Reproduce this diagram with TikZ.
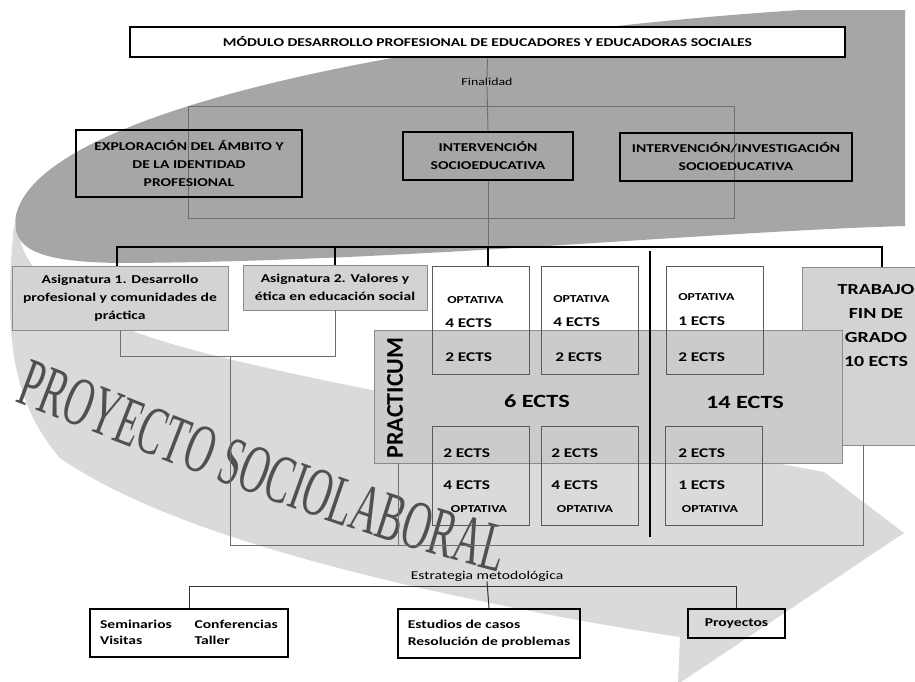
\documentclass[tikz,border=0pt]{standalone}
\usepackage{fontspec}
\setmainfont{Carlito}[FakeStretch=1.3]
\newfontfamily\plainfont{Carlito}
\newfontfamily\proyfont[FakeStretch=0.56]{Liberation Serif}
\usetikzlibrary{decorations.text}
\definecolor{darkbg}{HTML}{A6A6A6}
\definecolor{lightbg}{HTML}{DADADA}
\definecolor{boxgray}{HTML}{D3D3D3}
\definecolor{practgray}{HTML}{CBCBCB}
\definecolor{framegray}{HTML}{6E6E6E}
\definecolor{edgegray}{HTML}{595959}
\definecolor{wordart}{HTML}{505050}
\tikzset{
  tbox/.style={draw=black, line width=1.6pt, inner sep=0pt, align=center, font=\fontsize{9}{13.5}\selectfont\bfseries},
  asbox/.style={draw=edgegray!70, line width=0.7pt, fill=boxgray, inner sep=0pt, align=center, font=\fontsize{9}{13.5}\selectfont\bfseries},
  thinframe/.style={draw=framegray, line width=0.7pt, inner sep=0pt},
  ectsbox/.style={draw=edgegray, line width=0.7pt, inner sep=0pt, minimum width=72.75pt},
  thinline/.style={draw=framegray, line width=0.7pt},
  conline/.style={draw=black!80, line width=0.75pt},
  barline/.style={draw=black, line width=2.2pt},
  optt/.style={inner sep=0pt, anchor=west, font=\fontsize{8}{9}\selectfont\bfseries},
  ectst/.style={inner sep=0pt, anchor=west, font=\fontsize{10}{11}\selectfont\bfseries},
  bigt/.style={inner sep=0pt, font=\fontsize{14}{16}\selectfont\bfseries},
  smallt/.style={inner sep=0pt, font=\fontsize{8.5}{10}\selectfont},
  botbox/.style={draw=black, line width=1.6pt, inner sep=0pt, align=left, font=\fontsize{9}{12.5}\selectfont\bfseries}
}
\begin{document}
\begin{tikzpicture}[x=0.75pt,y=-0.75pt]
\useasboundingbox (0,0) rectangle (915,682);
\fill[white] (0,0) rectangle (915,682);
% background curved arrow
\fill[lightbg] (14,225) .. controls (4,330) and (10,400) .. (60,458)
  .. controls (150,520) and (300,560) .. (420,588)
  .. controls (520,610) and (600,625) .. (680,637)
  -- (678,684) -- (904,533) -- (824,472)
  .. controls (600,430) and (400,400) .. (233,360)
  .. controls (150,340) and (40,310) .. (20,240) -- cycle;
\fill[darkbg] (905,10) -- (800,10) .. controls (420,35) and (40,110) .. (16,215)
  .. controls (10,250) and (40,262) .. (120,263)
  .. controls (400,262) and (700,232) .. (905,226) -- cycle;
% word art
\path[decorate, decoration={text along path, text color=wordart,
  text={|\proyfont\fontsize{52}{52}\selectfont|PROYECTO SOCIOLABORAL}, text align=left}]
  (14,402) .. controls (150,452) and (350,540) .. (540,582);
% top part
\node[tbox, fill=white, minimum width=536.25pt, minimum height=22.5pt] (title) at (487.5,42)
  {MÓDULO DESARROLLO PROFESIONAL DE EDUCADORES Y EDUCADORAS SOCIALES};
\node[smallt, font=\fontsize{8}{9}\selectfont] (fin) at (487,82) {Finalidad};
\node[thinframe, minimum width=409.5pt, minimum height=84pt] (grp) at (461,162) {};
\node[tbox, minimum width=169.5pt, minimum height=50.25pt] (expl) at (189,163.5)
  {EXPLORACIÓN DEL ÁMBITO Y\\ DE LA IDENTIDAD\\ PROFESIONAL};
\node[tbox, minimum width=127.5pt, minimum height=36pt] (int) at (488,156)
  {INTERVENCIÓN\\ SOCIOEDUCATIVA};
\node[tbox, minimum width=174pt, minimum height=36pt] (inv) at (736,157)
  {INTERVENCIÓN/INVESTIGACIÓN\\ SOCIOEDUCATIVA};
\draw[thinline] (title.south) -- (fin.north);
\draw[thinline] (fin.south) -- (int.north);
% subjects
\node[asbox, minimum width=162pt, minimum height=48pt] (a1) at (120,298)
  {Asignatura 1. Desarrollo\\ profesional y comunidades de\\ práctica};
\node[asbox, minimum width=138pt, minimum height=33.75pt] (a2) at (335,287.5)
  {Asignatura 2. Valores y\\ ética en educación social};
% trabajo and practicum
\node[asbox, minimum width=111pt, minimum height=133.5pt] (trab) at (876,356) {};
\node[draw=edgegray!70, line width=0.7pt, fill=practgray, minimum width=351pt, minimum height=99.75pt, inner sep=0pt] (pract) at (608,396.5) {};
\node[inner sep=0pt, align=center, font=\fontsize{11.5}{18}\selectfont\bfseries] (trabt) at (876,326)
  {TRABAJO\\ FIN DE\\ GRADO\\ 10 ECTS};
\node[inner sep=0pt, rotate=90, font=\plainfont\fontsize{18}{20}\selectfont\bfseries] (pt) at (395,398) {PRACTICUM};
\node[bigt] (six) at (537,401) {6 ECTS};
\node[bigt] (fourteen) at (745,402) {14 ECTS};
% optativa boxes upper
\node[ectsbox, minimum height=81pt] (o1) at (480.5,320) {};
\node[ectsbox, minimum height=81pt] (o2) at (589.5,320) {};
\node[ectsbox, minimum height=81pt] (o3) at (714.5,320) {};
\node[optt] (o1a) at (447,300) {OPTATIVA};
\node[ectst] (o1b) at (445,323) {4 ECTS};
\node[ectst] (o1c) at (445,357) {2 ECTS};
\node[optt] (o2a) at (553,299) {OPTATIVA};
\node[ectst] (o2b) at (553,322) {4 ECTS};
\node[ectst] (o2c) at (555,357) {2 ECTS};
\node[optt] (o3a) at (678,297) {OPTATIVA};
\node[ectst] (o3b) at (678,321) {1 ECTS};
\node[ectst] (o3c) at (678,357) {2 ECTS};
% lower boxes
\node[ectsbox, minimum height=74.25pt] (l1) at (480.5,475.5) {};
\node[ectsbox, minimum height=74.25pt] (l2) at (589.5,475.5) {};
\node[ectsbox, minimum height=74.25pt] (l3) at (714,475.5) {};
\node[ectst] (l1a) at (443,453) {2 ECTS};
\node[ectst] (l1b) at (443,485) {4 ECTS};
\node[optt, anchor=center] (l1c) at (479,509) {OPTATIVA};
\node[ectst] (l2a) at (551,453) {2 ECTS};
\node[ectst] (l2b) at (551,485) {4 ECTS};
\node[optt, anchor=center] (l2c) at (585,509) {OPTATIVA};
\node[ectst] (l3a) at (678,453) {2 ECTS};
\node[ectst] (l3b) at (678,485) {1 ECTS};
\node[optt, anchor=center] (l3c) at (710,509) {OPTATIVA};
% bar and connectors
\coordinate (barL) at (117,247);
\coordinate (barR) at (882,247);
\draw[thinline] (int.south) -- (int.south |- barL);
\draw[barline] (barL |- a1.north) -- (barL) -- (barR) -- (barR |- trab.north);
\draw[barline] (a2.north) -- (a2.north |- barL);
\draw[barline] (int.south |- barL) -- (int.south |- o1.north);
\coordinate (divT) at (650,251);
\coordinate (divB) at (650,537);
\draw[barline] (divT) -- (divB);
\coordinate (brk) at (230,356);
\coordinate (fBL) at (230,545);
\coordinate (fBR) at (863,545);
\coordinate (pl) at (398,545);
\draw[thinline] (a1.south) -- (a1.south |- brk) -- (brk -| a2.south) -- (a2.south);
\draw[thinline] (brk) -- (fBL) -- (fBR) -- (fBR |- trab.south);
\draw[thinline] (pl |- pract.south) -- (pl);
% bottom
\node[smallt, font=\fontsize{9}{10}\selectfont] (estr) at (487,576) {Estrategia metodológica};
\node[botbox, minimum width=148.5pt, minimum height=36pt] (b1) at (189,633)
  {\begin{tabular}{@{}l@{\hspace{17pt}}l@{}}Seminarios & Conferencias\\ Visitas & Taller\end{tabular}};
\node[botbox, minimum width=136.5pt, minimum height=36.75pt] (b2) at (489,633.5)
  {Estudios de casos\\ Resolución de problemas};
\node[botbox, minimum width=72.75pt, minimum height=21.75pt] (b3) at (736.5,623.5) {Proyectos};
\coordinate (bl) at (188,586);
\draw[conline] (b1.north) -- (b1.north |- bl) -- (b3.north |- bl) -- (b3.north);
\draw[conline] (estr.south) -- (b2.north);
\end{tikzpicture}
\end{document}
